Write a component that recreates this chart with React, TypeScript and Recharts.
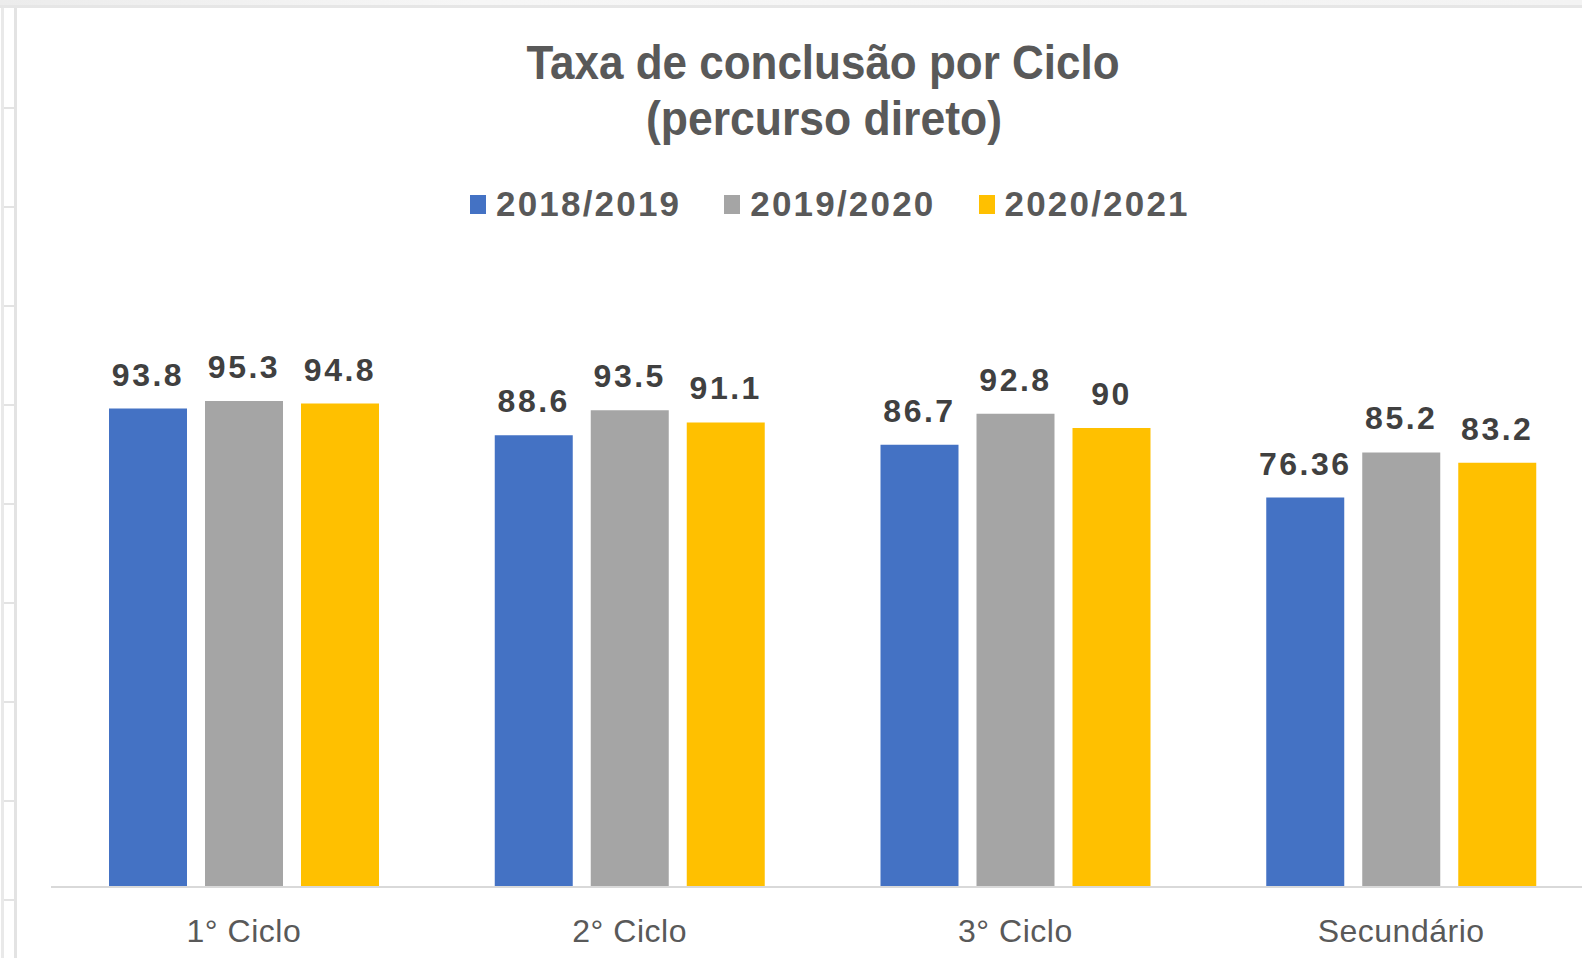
import { BarChart, Bar, XAxis, YAxis, Legend } from "recharts";

const categories = ["1° Ciclo", "2° Ciclo", "3° Ciclo", "Secundário"];
const seriesNames = ["2018/2019", "2019/2020", "2020/2021"];
const values1819 = [93.8, 88.6, 86.7, 76.36];
const values1920 = [95.3, 93.5, 92.8, 85.2];
const values2021 = [94.8, 91.1, 90, 83.2];

const COLORS = ["#4472C4", "#A5A5A5", "#FFC000"];
const FONT = "'Liberation Sans', Arial, sans-serif";

const data = categories.map((name, i) => ({
  name,
  s1819: values1819[i],
  s1920: values1920[i],
  s2021: values2021[i],
}));

const renderLabel = (props: any) => {
  const { x, y, width, value } = props;
  return (
    <text
      x={Number(x) + Number(width) / 2}
      y={Number(y) - 23}
      textAnchor="middle"
      fontFamily={FONT}
      fontSize={32}
      fontWeight={700}
      letterSpacing={2.5}
      fill="#404040"
    >
      {value}
    </text>
  );
};

const LegendContent = () => (
  <div style={{ display: "flex", paddingLeft: 470, fontFamily: FONT }}>
    {seriesNames.map((name, i) => (
      <div key={name} style={{ display: "flex", alignItems: "flex-start", marginRight: 43 }}>
        <div
          style={{
            width: 16,
            height: 19,
            marginTop: 11,
            marginRight: 10,
            background: COLORS[i],
          }}
        />
        <span
          style={{
            fontSize: 35,
            lineHeight: "40px",
            fontWeight: 700,
            letterSpacing: 2.2,
            color: "#595959",
          }}
        >
          {name}
        </span>
      </div>
    ))}
  </div>
);

export default function App() {
  return (
    <div
      style={{
        position: "absolute",
        left: 0,
        top: 0,
        width: 1582,
        height: 958,
        overflow: "hidden",
        background: "#fff",
      }}
    >
      {/* spreadsheet frame behind the chart */}
      <div style={{ position: "absolute", left: 0, top: 0, width: 1582, height: 5, background: "linear-gradient(to right, #ececec, #f6f6f6 30%, #f3f3f3)" }} />
      <div style={{ position: "absolute", left: 0, top: 5, width: 1582, height: 3, background: "#e6e6e6" }} />
      <div
        style={{
          position: "absolute",
          left: 1,
          top: 8,
          width: 10,
          height: 950,
          borderLeft: "3px solid #e9e9e9",
          borderRight: "3px solid #e3e3e3",
          background:
            "repeating-linear-gradient(to bottom, transparent 0px, transparent 97px, #e3e3e3 97px, #e3e3e3 99px)",
          backgroundPosition: "0 2px",
        }}
      />

      <svg
        width={1582}
        height={160}
        style={{ position: "absolute", left: 0, top: 0 }}
      >
        <text
          x={823}
          y={79}
          textAnchor="middle"
          fontFamily={FONT}
          fontSize={49}
          fontWeight={700}
          fill="#595959"
          textLength={593}
          lengthAdjust="spacingAndGlyphs"
        >
          Taxa de conclusão por Ciclo
        </text>
        <text
          x={824}
          y={135}
          textAnchor="middle"
          fontFamily={FONT}
          fontSize={49}
          fontWeight={700}
          fill="#595959"
          textLength={356}
          lengthAdjust="spacingAndGlyphs"
        >
          (percurso direto)
        </text>
      </svg>

      <div style={{ position: "absolute", left: 0, top: 0 }}>
        <BarChart
          width={1594}
          height={958}
          data={data}
          margin={{ top: 337, right: 0, bottom: 11, left: 51 }}
          barCategoryGap={58}
          barGap={18}
        >
          <XAxis
            dataKey="name"
            height={60}
            tickLine={false}
            tickSize={0}
            tickMargin={32}
            axisLine={{ stroke: "#d9d9d9", strokeWidth: 2 }}
            tick={{ fontSize: 32, fill: "#595959", fontFamily: FONT, letterSpacing: 0.5 }}
          />
          <YAxis hide domain={[0, 100]} />
          <Legend
            verticalAlign="top"
            height={40}
            content={<LegendContent />}
            wrapperStyle={{ top: 184, left: 0, width: 1582 }}
          />
          <Bar dataKey="s1819" name={seriesNames[0]} fill={COLORS[0]} isAnimationActive={false} label={renderLabel} />
          <Bar dataKey="s1920" name={seriesNames[1]} fill={COLORS[1]} isAnimationActive={false} label={renderLabel} />
          <Bar dataKey="s2021" name={seriesNames[2]} fill={COLORS[2]} isAnimationActive={false} label={renderLabel} />
        </BarChart>
      </div>
    </div>
  );
}
